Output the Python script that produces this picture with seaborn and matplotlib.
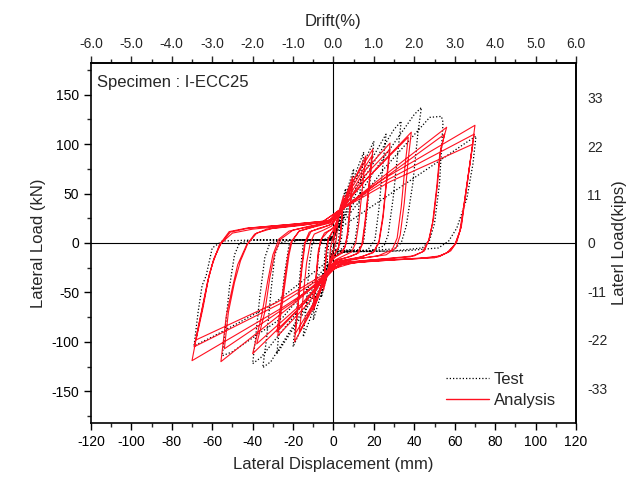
import matplotlib
matplotlib.use("Agg")
import matplotlib.pyplot as plt
import numpy as np
import pandas as pd
import seaborn as sns
from matplotlib.lines import Line2D
from matplotlib.ticker import MultipleLocator, FormatStrFormatter

# ---------------- data ----------------
# Test (black dotted) hysteresis path: displacement (mm), load (kN)
test_disp = [
    0, 1, 2, 1.5, 1, 0, -1, -2, -1.5, -1, 0,
    1, 2.5, 4, 3.3, 2.5, 1, -1, -2.5, -4, -3.3, -2.5, -1,
    1, 3, 6, 5, 4, 2.5, 0, -1, -3, -6, -5, -4, -2.5, 0,
    1, 5, 10, 8.8, 7.5, 6.5, 4, 0, -1, -5, -10, -8.8, -7.5, -6.5, -4, 0,
    1, 7, 15, 13.5, 12, 10.5, 8, 2, 0, -7, -15, -13.5, -12, -10.5, -8, -2, 0,
    1, 9, 20, 18.5, 16.5, 15, 12, 3, 0, -9, -20, -18.5, -16.5, -15, -12, -2, 0,
    2, 12, 26, 24.5, 22.5, 20.5, 17, 5, 0, -12, -28, -26.5, -24.5, -22, -18, -3, 0,
    2, 15, 30, 33.5, 32, 29.5, 27, 25, 18, 4, 0, -15, -31, -35, -33, -31, -29, -27, -20, -3, 0,
    2, 20, 40, 43.5, 41.8, 39.3, 36, 33.5, 30, 15, 2, 0, -18, -36, -40, -38.5, -36.5, -34, -31.5, -25, -3, 0,
    3, 25, 47.6, 53.4, 54.2, 52.5, 50, 47.6, 44, 30, 5, 0, -25, -50, -55, -53.5, -51.5, -49, -46.5, -40, -5, 0,
    3, 48, 66, 70.5, 69, 66, 61, 57, 52, 35, 5, 0, -30, -60, -69, -67, -65, -63, -60, -55, -40, -10, 0,
]
test_load = [
    0, 11, 22, 10, 0, -4, -11, -22, -10, 0, 4,
    10, 25, 40, 22, 3, -4, -10, -25, -40, -22, -3, 4,
    12, 32, 55, 32, 5, -5, -8, -13, -32, -55, -32, -5, 3, 4,
    12, 42, 75, 48, 12, 0, -6, -8, -14, -44, -78, -50, -14, 0, 3, 4,
    12, 50, 92, 62, 22, 0, -7, -8, -12, -52, -95, -64, -22, 0, 3, 3, 5,
    12, 55, 103, 72, 30, 2, -7, -8, -12, -56, -105, -74, -30, -1, 3, 3, 6,
    14, 60, 110, 80, 35, 3, -7, -9, -13, -62, -112, -80, -35, -2, 3, 3, 6,
    14, 65, 115, 123, 95, 45, 8, -3, -8, -9, -14, -68, -120, -126, -95, -50, -12, 0, 3, 3, 7,
    15, 72, 130, 137, 112, 61, 17, 0, -6, -8, -9, -15, -70, -116, -122, -95, -55, -15, 0, 3, 3, 8,
    16, 75, 127, 128, 122, 61, 20, 3, -5, -8, -9, -15, -75, -110, -114, -85, -45, -12, 0, 3, 3, 8,
    15, 77, 102, 108, 80, 45, 15, 2, -5, -8, -9, -14, -62, -95, -104, -70, -43, -33, -5, 2, 3, 3, 4,
]

# Analysis (red) hysteresis path: displacement (mm), load (kN)
ana_disp = [
    0, 1, 2.5, 2, 1.5, 0.5, -0.5, -1.5, -2.5, -2, -1.5, -0.5, 0.5,
    1.5, 3, 5, 4.3, 3.5, 2.5, 1, -1, -3, -5, -4.3, -3.5, -2.5, -1, 1,
    3, 5, 4.3, 3.5, 2.5, 0.5, -1, -3, -5, -4.3, -3.5, -2.5, -0.5, 1,
    4, 9.5, 8.5, 7, 6, 4.5, 1, -1, -4, -10, -9, -7.5, -6.5, -4.5, -1, 1,
    4, 9.5, 8.5, 7, 5.5, 3, 0, -4, -10, -9, -7.5, -6, -3, 0,
    3, 8, 16, 14.5, 12.5, 11, 9, 5, 1, -3, -8, -16.9, -15.3, -13.3, -11.5, -9.5, -5, -1,
    3, 9, 19.5, 18, 16, 14.5, 12.5, 8, 2, -3, -9, -19.3, -17.8, -16, -14.3, -12, -7, -2,
    3, 9, 19, 17.5, 15.5, 14, 11.5, 6, 1, -3, -9, -19, -17.5, -15.5, -14, -11, -6, -1,
    5, 15, 28, 26.5, 24.5, 22.5, 20, 14, 3, -3, -12, -27.6, -25, -22, -20.5, -17, -10, -2,
    5, 15, 28, 26.5, 24.5, 22.5, 19.5, 12, 2, -4, -13, -28, -25.5, -22.5, -21, -17, -9, -2,
    2, 15, 38.5, 37, 35, 33, 31, 26, 12, 2, -2, -15, -40, -35.5, -32.6, -30, -27, -22, -12, -2,
    3, 16, 37, 35.5, 33.5, 31.5, 29, 22, 8, 1, -3, -16, -38, -34, -31.5, -29, -26, -20, -8, -2,
    2, 20, 56, 53, 51.5, 49.5, 47.5, 45, 40, 25, 8, 1, -3, -20, -55.7, -53, -50, -47.4, -43, -39, -33, -15, -2,
    3, 20, 55, 52.5, 51, 49, 47, 44, 38, 20, 5, 0, -4, -20, -54, -52, -49, -46, -42.5, -38, -30, -12, -2,
    2, 25, 70, 68.5, 66, 63.3, 61, 58, 53, 45, 20, 5, 0, -5, -25, -70, -66.4, -62.3, -60, -56.5, -51.6, -43, -20, -5,
    2, 25, 69.6, 68, 65.5, 63, 60.5, 57, 52, 40, 15, 3, -2, -25, -69, -65.5, -62, -59.5, -56, -51, -42, -20, -5,
    3, 28, 69, 67.5, 65, 62.5, 60, 56, 50, 30, 10, 0, -28, -68, -64.5, -61.5, -59, -55.5, -50, -40, -20, -5, 0,
]
ana_load = [
    0, 14, 28, 18, 5, -4, -10, -18, -28, -18, -5, 4, 10,
    20, 34, 48, 32, 10, -4, -10, -16, -32, -48, -32, -10, 4, 10, 16,
    30, 44, 28, 8, -5, -11, -15, -30, -44, -28, -8, 5, 11, 15,
    36, 67, 45, 12, -2, -10, -14, -18, -36, -68, -45, -12, 2, 10, 14, 18,
    34, 62, 40, 8, -5, -11, -15, -33, -62, -40, -8, 4, 11, 15,
    28, 55, 88, 60, 20, 0, -9, -13, -17, -28, -55, -90, -60, -20, 0, 9, 13, 17,
    30, 60, 95, 65, 25, 0, -10, -14, -17, -30, -62, -100, -68, -28, 0, 11, 15, 18,
    28, 56, 88, 58, 20, -2, -11, -15, -18, -28, -58, -92, -62, -24, 0, 12, 15, 19,
    38, 72, 101, 70, 28, 2, -9, -14, -18, -28, -60, -94, -56, -12, 2, 12, 16, 20,
    35, 67, 95, 66, 25, 0, -10, -15, -19, -30, -58, -90, -55, -12, 1, 12, 17, 21,
    30, 62, 112, 85, 40, 8, -5, -12, -16, -20, -30, -62, -112, -73, -39, -12, 4, 12, 17, 21,
    32, 64, 107, 80, 36, 5, -7, -13, -17, -21, -32, -62, -102, -70, -35, -10, 4, 13, 18, 22,
    30, 60, 117, 95, 60, 25, 5, -8, -13, -16, -19, -22, -32, -62, -120, -73, -45, -22, -2, 9, 14, 18, 22,
    32, 58, 110, 88, 55, 20, 2, -9, -14, -17, -20, -25, -33, -60, -107, -70, -40, -18, -1, 10, 15, 19, 23,
    32, 65, 119, 95, 57, 17, 1, -8, -13, -15, -18, -21, -27, -38, -65, -119, -80, -39, -22, -2, 11.5, 15, 19, 22,
    32, 62, 110, 88, 52, 15, 0, -9, -14, -16, -19, -22, -30, -60, -105, -72, -37, -18, -1, 11, 15, 19, 22,
    33, 62, 100, 80, 45, 12, -2, -10, -15, -17, -20, -26, -60, -98, -65, -32, -15, 0, 10, 14, 18, 21, 25,
]

series_names = ["Test", "Analysis"]
x_ticks_mm = [-120, -100, -80, -60, -40, -20, 0, 20, 40, 60, 80, 100, 120]
y_ticks_kn = [-150, -100, -50, 0, 50, 100, 150]
drift_ticks = [-6.0, -5.0, -4.0, -3.0, -2.0, -1.0, 0.0, 1.0, 2.0, 3.0, 4.0, 5.0, 6.0]
kip_ticks = [33, 22, 11, 0, -11, -22, -33]

# ---------------- plotting ----------------
sns.set_theme(style="white")
plt.rcParams["font.family"] = ["Liberation Sans", "DejaVu Sans"]
plt.rcParams["axes.edgecolor"] = "black"
plt.rcParams["axes.unicode_minus"] = False

fig = plt.figure(figsize=(6.3, 4.8), dpi=100)
ax = fig.add_axes([0.1444, 0.1188, 0.7699, 0.7500])

df_test = pd.DataFrame({"disp": test_disp, "load": test_load})
df_ana = pd.DataFrame({"disp": ana_disp, "load": ana_load})

red = "#ff1020"
sns.lineplot(data=df_test, x="disp", y="load", sort=False, estimator=None,
             ax=ax, color="black", linewidth=0.9, linestyle=(0, (1, 1.6)))
sns.lineplot(data=df_ana, x="disp", y="load", sort=False, estimator=None,
             ax=ax, color=red, linewidth=0.8)

ax.axhline(0, color="black", lw=0.8, zorder=0)
ax.axvline(0, color="black", lw=0.8, zorder=0)

ax.set_xlim(-120, 120)
ax.set_ylim(-182, 182)
ax.set_xticks(x_ticks_mm)
ax.set_yticks(y_ticks_kn)
ax.xaxis.set_minor_locator(MultipleLocator(10))
ax.yaxis.set_minor_locator(MultipleLocator(25))
ax.tick_params(axis="both", which="major", direction="out", length=5, width=1,
               labelsize=10, colors="black", bottom=True, left=True)
ax.tick_params(axis="both", which="minor", direction="out", length=3, width=1,
               bottom=True, left=True)
for s in ax.spines.values():
    s.set_color("black")
    s.set_linewidth(1.2)

ax.set_xlabel("Lateral Displacement (mm)", fontsize=12, labelpad=6)
ax.set_ylabel("Lateral Load (kN)", fontsize=12, labelpad=4)

# top axis: drift
top = ax.secondary_xaxis("top", functions=(lambda x: x / 20.0, lambda d: d * 20.0))
top.set_xticks(drift_ticks)
top.xaxis.set_major_formatter(FormatStrFormatter("%.1f"))
top.xaxis.set_minor_locator(MultipleLocator(0.5))
top.tick_params(which="major", direction="out", length=5, width=1, labelsize=10)
top.tick_params(which="minor", direction="out", length=3, width=1)
top.set_xlabel("Drift(%)", fontsize=12, labelpad=8)
top.spines["top"].set_linewidth(1.2)

# right axis: kips
right = ax.secondary_yaxis("right", functions=(lambda y: y / 4.448, lambda k: k * 4.448))
right.set_yticks(kip_ticks)
right.set_yticklabels([str(k) for k in kip_ticks])
right.tick_params(which="major", direction="out", length=0, labelsize=10, pad=8)
right.set_ylabel("Laterl Load(kips)", fontsize=12, labelpad=3)
right.spines["right"].set_linewidth(1.2)

ax.text(0.012, 0.967, "Specimen : I-ECC25", transform=ax.transAxes,
        ha="left", va="top", fontsize=12)

handles = [Line2D([], [], color="black", lw=0.9, linestyle=(0, (1, 1.6))),
           Line2D([], [], color=red, lw=1.0)]
ax.legend(handles, series_names, loc="lower right", frameon=False, fontsize=12,
          handlelength=2.6, handletextpad=0.3, labelspacing=0.35,
          bbox_to_anchor=(0.99, 0.0))

fig.savefig("out.png", dpi=100)
